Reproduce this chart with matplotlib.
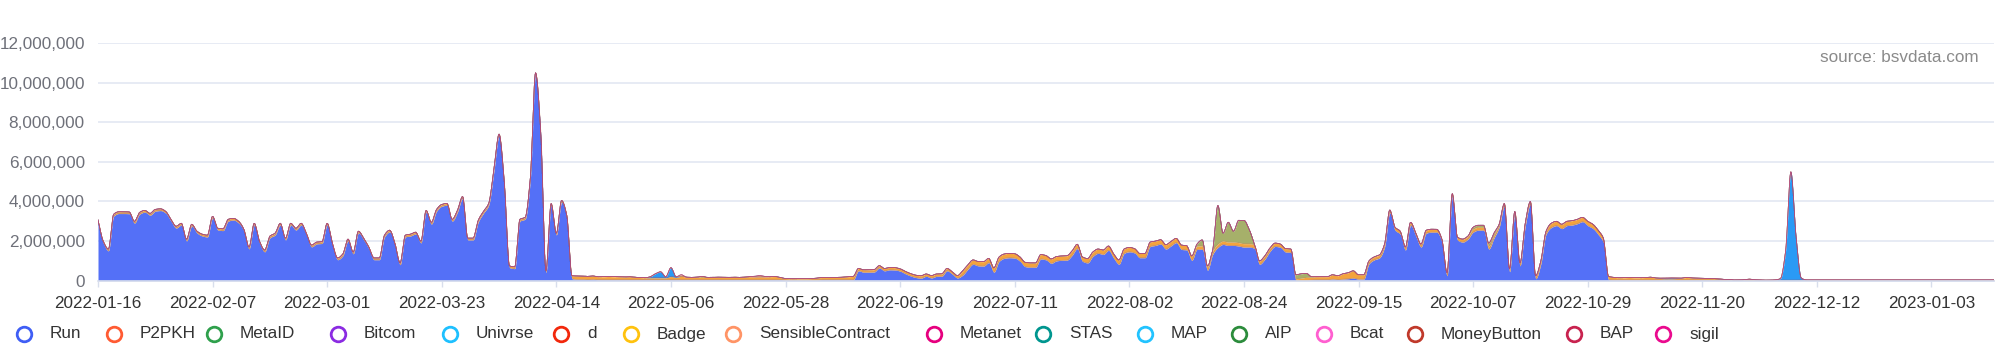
import numpy as np
import matplotlib
matplotlib.use("Agg")
import matplotlib.pyplot as plt
from matplotlib.lines import Line2D
import datetime as dt

plt.rcParams['font.family'] = ['Liberation Sans', 'DejaVu Sans']

# ---------------- data (values in millions, daily from 2022-01-16) ----------------
start_date = dt.date(2022, 1, 16)

series_names = ["Run", "P2PKH", "MetaID", "Bitcom", "Univrse", "d", "Badge",
                "SensibleContract", "Metanet", "STAS", "MAP", "AIP", "Bcat",
                "MoneyButton", "BAP", "sigil"]

run = [
    2.98, 1.91, 1.51, 3.26, 3.39, 3.39, 3.38, 2.91, 3.36, 3.46,
    3.31, 3.51, 3.54, 3.41, 3.01, 2.66, 2.81, 2.01, 2.76, 2.41,
    2.26, 2.21, 3.16, 2.56, 2.53, 3.01, 3.06, 2.91, 2.51, 1.61,
    2.81, 1.91, 1.46, 2.16, 2.31, 2.81, 2.06, 2.81, 2.56, 2.81,
    2.31, 1.71, 1.86, 1.88, 2.81, 1.81, 1.06, 1.26, 2.01, 1.36,
    2.41, 2.06, 1.61, 1.06, 1.06, 2.21, 2.46, 1.81, 0.81, 2.21,
    2.26, 2.36, 1.91, 3.46, 2.86, 3.51, 3.76, 3.81, 3.01, 3.46,
    4.16, 2.06, 2.06, 2.96, 3.41, 3.81, 5.51, 7.31, 4.91, 0.66,
    0.61, 3.01, 3.11, 5.11, 10.41, 7.41, 0.41, 3.81, 2.31, 3.96,
    3.21, 0.10,
    0.07, 0.07, 0.06, 0.07, 0.05, 0.05, 0.05, 0.05, 0.05, 0.05,
    0.05, 0.05, 0.05, 0.05, 0.05, 0.05, 0.05, 0.05, 0.05, 0.05,
    0.05, 0.05, 0.05, 0.05, 0.05, 0.05, 0.05, 0.05, 0.05, 0.05,
    0.05, 0.05, 0.05, 0.05, 0.05, 0.05, 0.05, 0.05, 0.05, 0.05,
    0.03, 0.03, 0.03, 0.03, 0.03, 0.03, 0.03, 0.05, 0.05, 0.05,
    0.05, 0.05, 0.05, 0.05,
    0.50, 0.43, 0.43, 0.44, 0.64, 0.50, 0.55, 0.54, 0.48, 0.35,
    0.24, 0.16, 0.13, 0.22, 0.14, 0.22, 0.23, 0.50, 0.33, 0.14,
    0.28, 0.58, 0.83, 0.75, 0.74, 0.91, 0.43, 0.98, 1.13, 1.16,
    1.14, 0.98, 0.71, 0.68, 0.68, 1.10, 1.05, 0.88, 1.00, 1.03,
    1.04, 1.28, 1.62, 0.98, 0.90, 1.23, 1.38, 1.33, 1.53, 1.13,
    0.83, 1.38, 1.46, 1.40, 1.16, 1.16, 1.73, 1.78, 1.85, 1.60,
    1.76, 1.92, 1.58, 1.55, 1.03,
    1.58, 1.59, 0.53, 1.33, 1.68, 1.83, 1.78, 1.78, 1.75, 1.70,
    1.70, 1.63, 0.83, 1.08, 1.48, 1.73, 1.68, 1.45, 1.43,
    0.02, 0.02, 0.02, 0.04, 0.05, 0.05, 0.05, 0.08, 0.06, 0.08,
    0.10, 0.13, 0.08, 0.08,
    0.85, 1.05, 1.15, 1.70, 3.42, 2.55, 2.35, 1.55, 2.80, 2.25,
    1.70, 2.40, 2.45, 2.45, 1.95, 0.25, 4.25, 2.05, 1.95, 2.10,
    2.45, 2.55, 2.55, 1.60, 2.15, 2.70, 3.75, 0.45, 3.35, 0.75,
    2.75, 3.85, 0.10, 0.85, 2.35,
    2.68, 2.78, 2.63, 2.78, 2.81, 2.88, 2.98, 2.78, 2.63, 2.33,
    1.93, 0.05,
    0.04, 0.04, 0.04, 0.04, 0.04, 0.04, 0.04, 0.04, 0.04, 0.04,
    0.04, 0.04, 0.04, 0.04, 0.04, 0.04, 0.04, 0.04, 0.04, 0.04,
    0.04,
    0.02, 0.02, 0.02, 0.02, 0.02, 0.02, 0.02, 0.02, 0.02, 0.02,
    0.02, 0.02, 0.02, 0.02, 0.02, 0.02, 0.02, 0.02, 0.02, 0.02,
    0.02, 0.02, 0.02, 0.02, 0.02, 0.02, 0.02, 0.02, 0.02, 0.02,
    0.02, 0.02, 0.02, 0.02, 0.02, 0.02, 0.02, 0.02, 0.02, 0.02,
    0.02, 0.02, 0.02, 0.02, 0.02, 0.02, 0.02, 0.02, 0.02, 0.02,
    0.02, 0.02, 0.02,
]

p2pkh = [
    0.09, 0.09, 0.09, 0.09, 0.09, 0.09, 0.09, 0.09, 0.09, 0.09,
    0.09, 0.09, 0.09, 0.09, 0.09, 0.09, 0.09, 0.09, 0.09, 0.09,
    0.09, 0.09, 0.09, 0.09, 0.09, 0.09, 0.09, 0.09, 0.09, 0.09,
    0.09, 0.09, 0.09, 0.09, 0.09, 0.09, 0.09, 0.09, 0.09, 0.09,
    0.09, 0.09, 0.09, 0.09, 0.09, 0.09, 0.09, 0.09, 0.09, 0.09,
    0.09, 0.09, 0.09, 0.09, 0.09, 0.09, 0.09, 0.09, 0.09, 0.09,
    0.09, 0.09, 0.09, 0.09, 0.09, 0.09, 0.09, 0.09, 0.09, 0.09,
    0.09, 0.09, 0.09, 0.09, 0.09, 0.09, 0.09, 0.09, 0.09, 0.09,
    0.09, 0.09, 0.09, 0.09, 0.09, 0.09, 0.09, 0.09, 0.09, 0.09,
    0.09, 0.15,
    0.17, 0.17, 0.16, 0.17, 0.15, 0.15, 0.16, 0.15, 0.15, 0.14,
    0.15, 0.13, 0.11, 0.10, 0.10, 0.10, 0.10, 0.10, 0.16, 0.12,
    0.17, 0.13, 0.12, 0.13, 0.12, 0.12, 0.12, 0.13, 0.12, 0.12,
    0.13, 0.12, 0.13, 0.15, 0.14, 0.14, 0.14, 0.15, 0.16, 0.11,
    0.08, 0.07, 0.07, 0.07, 0.07, 0.08, 0.10, 0.11, 0.11, 0.12,
    0.12, 0.13, 0.15, 0.17,
    0.12, 0.12, 0.12, 0.12, 0.12, 0.12, 0.12, 0.12, 0.12, 0.12,
    0.12, 0.12, 0.12, 0.12, 0.12, 0.12, 0.12, 0.12, 0.12, 0.12,
    0.22, 0.22, 0.22, 0.22, 0.22, 0.22, 0.22, 0.22, 0.22, 0.22,
    0.22, 0.22, 0.22, 0.22, 0.22, 0.22, 0.22, 0.22, 0.22, 0.22,
    0.22, 0.22, 0.22, 0.22, 0.22, 0.22, 0.22, 0.22, 0.22, 0.22,
    0.22, 0.22, 0.22, 0.22, 0.22, 0.22, 0.22, 0.22, 0.22, 0.22,
    0.22, 0.22, 0.22, 0.22, 0.22,
    0.17, 0.17, 0.17, 0.17, 0.17, 0.17, 0.17, 0.17, 0.17, 0.17,
    0.17, 0.17, 0.17, 0.17, 0.17, 0.17, 0.17, 0.17, 0.17,
    0.08, 0.11, 0.15, 0.14, 0.15, 0.15, 0.15, 0.22, 0.19, 0.27,
    0.30, 0.37, 0.22, 0.22,
    0.15, 0.15, 0.15, 0.15, 0.15, 0.15, 0.15, 0.15, 0.15, 0.15,
    0.15, 0.15, 0.15, 0.15, 0.15, 0.15, 0.15, 0.15, 0.15, 0.15,
    0.15, 0.15, 0.15, 0.15, 0.15, 0.15, 0.15, 0.15, 0.15, 0.15,
    0.15, 0.15, 0.15, 0.15, 0.15,
    0.22, 0.22, 0.22, 0.22, 0.22, 0.22, 0.22, 0.22, 0.22, 0.22,
    0.22, 0.17,
    0.13, 0.11, 0.11, 0.12, 0.11, 0.11, 0.12, 0.14, 0.10, 0.07,
    0.06, 0.06, 0.07, 0.09, 0.12, 0.10, 0.09, 0.08, 0.08, 0.07,
    0.06,
    0.05, 0.03, 0.02, 0.02, 0.03, 0.06, 0.03, 0.02, 0.01, 0.01,
    0.02, 0.01, 0.01, 0.01, 0.01, 0.02, 0.02, 0.02, 0.02, 0.02,
    0.02, 0.02, 0.02, 0.02, 0.02, 0.02, 0.02, 0.02, 0.02, 0.02,
    0.02, 0.02, 0.02, 0.02, 0.02, 0.02, 0.02, 0.02, 0.02, 0.02,
    0.02, 0.02, 0.02, 0.02, 0.02, 0.02, 0.02, 0.02, 0.02, 0.02,
    0.02, 0.02, 0.02,
]

# sparse series: {day index: value in millions}
metaid_days = {116: 0.05, 211: 0.10, 212: 0.30, 213: 0.05, 214: 0.05, 215: 1.95,
               216: 0.40, 217: 1.00, 218: 0.55, 219: 1.13, 220: 1.18, 221: 0.73,
               222: 0.05, 230: 0.20, 231: 0.22, 232: 0.20, 233: 0.02, 264: 0.10,
               265: 0.10, 266: 0.10, 267: 0.15, 268: 0.10, 313: 0.02}
univrse_days = {106: 0.05, 107: 0.20, 108: 0.30, 109: 0.05, 110: 0.45, 111: 0.03,
                300: 0.02, 301: 0.03, 302: 0.04, 303: 0.03, 323: 0.08, 324: 1.50,
                325: 5.47, 326: 2.20, 327: 0.10}
sensible_days = {112: 0.08, 126: 0.03, 127: 0.07, 128: 0.03}

legend_colors = ["#3f5ef5", "#ff5b33", "#2fa04c", "#8b2be2", "#1ec0ff", "#f2280c",
                 "#ffc20e", "#ff9466", "#e6007e", "#00968f", "#22c3ff", "#2c8c3c",
                 "#ff5fd0", "#c0392b", "#c8234f", "#ea0a8e"]
area_colors = ["#5470f7", "#f4a33d", "#a6b06a", "#8b2be2", "#2a9af5", "#f2280c",
               "#ffc20e", "#f7a07a", "#e6007e", "#00968f", "#22c3ff", "#2c8c3c",
               "#ff5fd0", "#c0392b", "#c8234f", "#ea0a8e"]

# ---------------- build layers ----------------
n = len(run)
def from_days(d):
    a = np.zeros(n)
    for k, v in d.items():
        a[k] = v
    return a

layers = {name: np.zeros(n) for name in series_names}
layers["Run"] = np.array(run)
layers["P2PKH"] = np.array(p2pkh)
layers["MetaID"] = from_days(metaid_days)
layers["Univrse"] = from_days(univrse_days)
layers["SensibleContract"] = from_days(sensible_days)

xs = np.arange(n)
xf = np.linspace(0, n - 1, (n - 1) * 12 + 1)

def pchip(x, y, xn):
    h = np.diff(x)
    delta = np.diff(y) / h
    d = np.zeros_like(y)
    for k in range(1, len(y) - 1):
        if delta[k - 1] * delta[k] > 0:
            w1 = 2 * h[k] + h[k - 1]
            w2 = h[k] + 2 * h[k - 1]
            d[k] = (w1 + w2) / (w1 / delta[k - 1] + w2 / delta[k])
    d[0] = delta[0]
    d[-1] = delta[-1]
    idx = np.clip(np.searchsorted(x, xn) - 1, 0, len(x) - 2)
    t = (xn - x[idx]) / h[idx]
    h00 = 2 * t**3 - 3 * t**2 + 1
    h10 = t**3 - 2 * t**2 + t
    h01 = -2 * t**3 + 3 * t**2
    h11 = t**3 - t**2
    return (h00 * y[idx] + h10 * h[idx] * d[idx] + h01 * y[idx + 1]
            + h11 * h[idx] * d[idx + 1])

# ---------------- figure ----------------
W, H = 2000, 353
fig = plt.figure(figsize=(W / 100, H / 100), dpi=100)
ax_l, ax_r, ax_t, ax_b = 98, 1994, 43, 280.7
ax = fig.add_axes([ax_l / W, 1 - ax_b / H, (ax_r - ax_l) / W, (ax_b - ax_t) / H])

cum = np.zeros(n)
prev_top = np.zeros_like(xf)
tops = []
for name, acolor in zip(series_names, area_colors):
    cum = cum + layers[name] * 1e6
    top = np.maximum(pchip(xs.astype(float), cum, xf), prev_top)
    top = np.maximum(top, 0)
    ax.fill_between(xf, prev_top, top, color=acolor, lw=0, zorder=2)
    tops.append(top)
    prev_top = top
for top, lcolor in zip(tops, legend_colors):
    ax.plot(xf, top, color=lcolor, lw=0.45, alpha=0.3, zorder=3)

ax.set_xlim(0, n - 1)
ax.set_ylim(0, 12e6)
yt = np.arange(0, 12e6 + 1, 2e6)
ax.set_yticks(yt)
ax.set_yticklabels([f"{int(v):,}" for v in yt])
xt = np.arange(0, n, 22)
ax.set_xticks(xt)
ax.set_xticklabels([(start_date + dt.timedelta(days=int(i))).strftime("%Y-%m-%d") for i in xt])

for s in ["top", "right", "left"]:
    ax.spines[s].set_visible(False)
ax.spines["bottom"].set_color("#d8deec")
ax.spines["bottom"].set_linewidth(1.2)
ax.spines["bottom"].set_zorder(4)
ax.grid(axis="y", color="#e0e6f1", lw=1.1)
ax.set_axisbelow(True)
ax.tick_params(axis="y", length=0, pad=9.5, labelsize=12.3, labelcolor="#6e7079")
ax.tick_params(axis="x", length=4, width=1, color="#d8deec", pad=7,
               labelsize=12.3, labelcolor="#333333")

fig.text(1979 / W, 1 - 57 / H, "source: bsvdata.com", ha="right", va="center",
         fontsize=12.3, color="#8a8a8a")

# legend (drawn manually to match positions)
leg_x = [24, 113.5, 213.6, 338, 449.6, 561, 631, 733, 934, 1043, 1145, 1239,
         1324, 1414.5, 1574, 1663]
leg_y = 1 - 334 / H
for x, name, c in zip(leg_x, series_names, legend_colors):
    fig.add_artist(Line2D([x / W], [leg_y], transform=fig.transFigure, marker="o",
                          markersize=10.5, markerfacecolor="white",
                          markeredgecolor=c, markeredgewidth=2.0, linestyle="none"))
    fig.text((x + 26) / W, leg_y, name, ha="left", va="center", fontsize=12.3,
             color="#333333")

fig.savefig("out.png", dpi=100)
